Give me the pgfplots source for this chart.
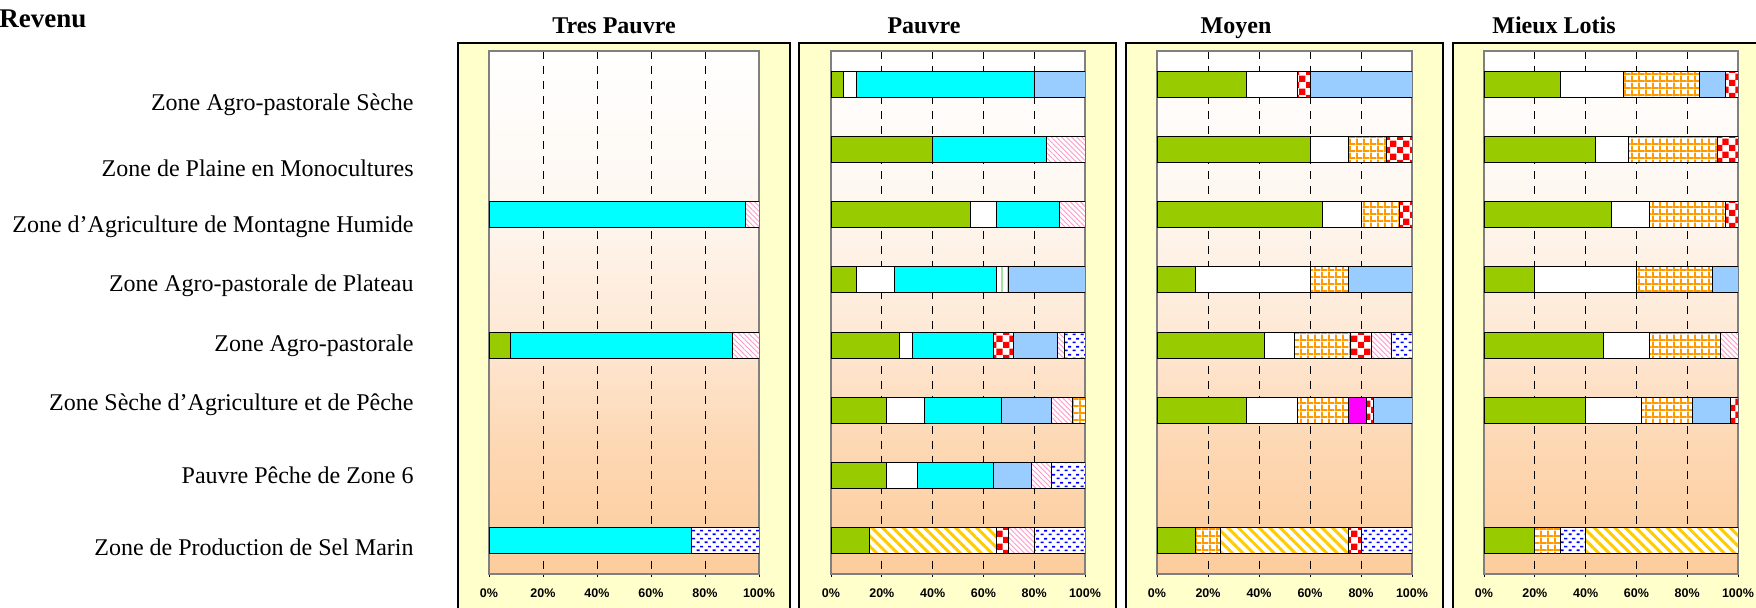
\documentclass[border=0pt]{standalone}
\usepackage{fontspec}
\setmainfont{Liberation Serif}
\newfontfamily\arialfont{Liberation Sans}
\usepackage{pgfplots}
\pgfplotsset{compat=1.18}
\usepackage{pgfplotstable}
\usetikzlibrary{patterns,patterns.meta}

\definecolor{cGreen}{RGB}{153,204,0}
\definecolor{cCyan}{RGB}{0,255,255}
\definecolor{cLBlue}{RGB}{153,204,255}
\definecolor{cMag}{RGB}{255,0,255}
\definecolor{cRed}{RGB}{255,0,0}
\definecolor{cOrange}{RGB}{255,153,0}
\definecolor{cYel}{RGB}{255,204,0}
\definecolor{cBlue}{RGB}{0,0,255}
\definecolor{cPink}{RGB}{255,153,204}
\definecolor{cLGreen}{RGB}{160,225,160}
\definecolor{cBox}{RGB}{255,255,204}
\definecolor{cAxis}{RGB}{128,128,128}
\definecolor{cP0}{RGB}{255,255,255}
\definecolor{cP1}{RGB}{254,247,240}
\definecolor{cP2}{RGB}{254,232,212}
\definecolor{cP3}{RGB}{253,216,180}
\definecolor{cP4}{RGB}{252,204,156}

\pgfdeclareverticalshading{peach}{100bp}{color(0bp)=(cP4); color(25bp)=(cP4); color(37.5bp)=(cP3); color(47.5bp)=(cP2); color(60bp)=(cP1); color(75bp)=(cP0); color(100bp)=(cP0)}

\pgfdeclarepatternformonly{checks}{\pgfpointorigin}{\pgfqpoint{6.6pt}{6.6pt}}{\pgfqpoint{6.6pt}{6.6pt}}{%
  \pgfpathrectangle{\pgfpointorigin}{\pgfqpoint{3.3pt}{3.3pt}}%
  \pgfpathrectangle{\pgfqpoint{3.3pt}{3.3pt}}{\pgfqpoint{3.3pt}{3.3pt}}%
  \pgfusepath{fill}}
\pgfdeclarepatternformonly{ogrid}{\pgfpointorigin}{\pgfqpoint{3.6pt}{3.6pt}}{\pgfqpoint{3.6pt}{3.6pt}}{%
  \pgfpathrectangle{\pgfpointorigin}{\pgfqpoint{3.6pt}{1pt}}%
  \pgfpathrectangle{\pgfpointorigin}{\pgfqpoint{1pt}{3.6pt}}%
  \pgfusepath{fill}}
\pgfdeclarepatternformonly{bdash}{\pgfpointorigin}{\pgfqpoint{4pt}{4pt}}{\pgfqpoint{4pt}{4pt}}{%
  \pgfpathrectangle{\pgfqpoint{0.3pt}{0.5pt}}{\pgfqpoint{1.7pt}{0.9pt}}%
  \pgfpathrectangle{\pgfqpoint{2.3pt}{2.5pt}}{\pgfqpoint{1.7pt}{0.9pt}}%
  \pgfusepath{fill}}

\pgfplotsset{
  sG/.style={fill=cGreen,draw=black},
  sW/.style={fill=white,draw=black},
  sC/.style={fill=cCyan,draw=black},
  sB/.style={fill=cLBlue,draw=black},
  sM/.style={fill=cMag,draw=black},
  sP/.style={draw=black,preaction={fill=white},pattern={Lines[angle=-45,distance=1.8pt,line width=0.45pt]},pattern color=cPink},
  sY/.style={draw=black,preaction={fill=white},pattern={Lines[angle=-45,distance=3.7pt,line width=1.5pt]},pattern color=cYel},
  sLG/.style={draw=black,preaction={fill=white},pattern={Lines[angle=90,distance=3pt,line width=1.2pt]},pattern color=cLGreen},
  sK/.style={draw=black,preaction={fill=white},pattern=checks,pattern color=cRed},
  sO/.style={draw=black,preaction={fill=white},pattern=ogrid,pattern color=cOrange},
  sD/.style={draw=black,preaction={fill=white},pattern=bdash,pattern color=cBlue},
  panel/.style={
    xbar stacked, scale only axis, height=261.5pt, anchor=south west,
    xmin=0, xmax=100, ymin=0.48, ymax=8.52, y dir=reverse,
    bar width=0.4,
    xtick={0,20,40,60,80,100},
    xticklabels={0\%,20\%,40\%,60\%,80\%,100\%},
    ytick=\empty,
    xmajorgrids,
    major grid style={black,line width=0.5pt,dash pattern=on 4pt off 3.5pt},
    xtick pos=bottom, xtick align=outside, major tick length=1.5pt,
    axis line style={draw=cAxis,line width=0.6pt},
    every tick/.style={black,line width=0.5pt},
    xticklabel style={font=\arialfont\bfseries\fontsize{6.25}{7}\selectfont, anchor=base, yshift=-10pt, inner sep=0pt},
    axis background/.style={shading=peach},
    every axis plot/.append style={line width=0.5pt},
  },
}

% Tres Pauvre
\pgfplotstableread{
r g c p d
3 0 95 5 0
5 8 82 10 0
8 0 75 0 25
}\tabA
% Pauvre
\pgfplotstableread{
r g w y c lg k b p o d
1 5 5 0 70 0 0 20 0 0 0
2 40 0 0 45 0 0 0 15 0 0
3 55 10 0 25 0 0 0 10 0 0
4 10 15 0 40 5 0 30 0 0 0
5 27 5 0 32 0 8 17 3 0 8
6 22 15 0 30 0 0 20 8 5 0
7 22 12 0 30 0 0 15 8 0 13
8 15 0 50 0 0 5 0 10 0 20
}\tabB
% Moyen
\pgfplotstableread{
r g w o y m k b p d
1 35 20 0 0 0 5 40 0 0
2 60 15 15 0 0 10 0 0 0
3 65 15 15 0 0 5 0 0 0
4 15 45 15 0 0 0 25 0 0
5 42 12 22 0 0 8 0 8 8
6 35 20 20 0 7 3 15 0 0
8 15 0 10 50 0 5 0 0 20
}\tabC
% Mieux Lotis
\pgfplotstableread{
r g w o d y b p k
1 30 25 30 0 0 10 0 5
2 44 13 35 0 0 0 0 8
3 50 15 30 0 0 0 0 5
4 20 40 30 0 0 10 0 0
5 47 18 28 0 0 0 7 0
6 40 22 20 0 0 15 0 3
8 20 0 10 10 60 0 0 0
}\tabD

\begin{document}
\begin{tikzpicture}
\useasboundingbox (0,0) rectangle (878pt,-304pt);
\clip (0,0) rectangle (878pt,-304pt);

\draw[fill=cBox, line width=0.7pt] (229pt,-21.5pt) rectangle (395pt,-320pt);
\draw[fill=cBox, line width=0.7pt] (399.5pt,-21.5pt) rectangle (558pt,-320pt);
\draw[fill=cBox, line width=0.7pt] (563pt,-21.5pt) rectangle (721.5pt,-320pt);
\draw[fill=cBox, line width=0.7pt] (726.5pt,-21.5pt) rectangle (890pt,-320pt);

\begin{axis}[panel, at={(244.5pt,-287pt)}, width=135pt]
\addplot[sG] table[x=g,y=r]{\tabA};
\addplot[sC] table[x=c,y=r]{\tabA};
\addplot[sP] table[x=p,y=r]{\tabA};
\addplot[sD] table[x=d,y=r]{\tabA};
\end{axis}

\begin{axis}[panel, at={(415.5pt,-287pt)}, width=127pt]
\addplot[sG] table[x=g,y=r]{\tabB};
\addplot[sW] table[x=w,y=r]{\tabB};
\addplot[sY] table[x=y,y=r]{\tabB};
\addplot[sC] table[x=c,y=r]{\tabB};
\addplot[sLG] table[x=lg,y=r]{\tabB};
\addplot[sK] table[x=k,y=r]{\tabB};
\addplot[sB] table[x=b,y=r]{\tabB};
\addplot[sP] table[x=p,y=r]{\tabB};
\addplot[sO] table[x=o,y=r]{\tabB};
\addplot[sD] table[x=d,y=r]{\tabB};
\end{axis}

\begin{axis}[panel, at={(578.5pt,-287pt)}, width=127.5pt]
\addplot[sG] table[x=g,y=r]{\tabC};
\addplot[sW] table[x=w,y=r]{\tabC};
\addplot[sO] table[x=o,y=r]{\tabC};
\addplot[sY] table[x=y,y=r]{\tabC};
\addplot[sM] table[x=m,y=r]{\tabC};
\addplot[sK] table[x=k,y=r]{\tabC};
\addplot[sB] table[x=b,y=r]{\tabC};
\addplot[sP] table[x=p,y=r]{\tabC};
\addplot[sD] table[x=d,y=r]{\tabC};
\end{axis}

\begin{axis}[panel, at={(742pt,-287pt)}, width=127pt]
\addplot[sG] table[x=g,y=r]{\tabD};
\addplot[sW] table[x=w,y=r]{\tabD};
\addplot[sO] table[x=o,y=r]{\tabD};
\addplot[sD] table[x=d,y=r]{\tabD};
\addplot[sY] table[x=y,y=r]{\tabD};
\addplot[sB] table[x=b,y=r]{\tabD};
\addplot[sP] table[x=p,y=r]{\tabD};
\addplot[sK] table[x=k,y=r]{\tabD};
\end{axis}

\node[anchor=base west, inner sep=0pt, font=\bfseries\fontsize{13.5}{16}\selectfont] at (-0.5pt,-14pt) {Revenu};
\begin{scope}[every node/.style={anchor=base, inner sep=0pt, font=\bfseries\fontsize{12}{14}\selectfont}]
\node at (307pt,-17pt) {Tres Pauvre};
\node at (462pt,-17pt) {Pauvre};
\node at (618pt,-17pt) {Moyen};
\node at (777pt,-17pt) {Mieux Lotis};
\end{scope}
\begin{scope}[every node/.style={anchor=base east, inner sep=0pt, font=\fontsize{12}{14}\selectfont}]
\node at (207pt,-55.5pt) {Zone Agro-pastorale Sèche};
\node at (207pt,-88.5pt) {Zone de Plaine en Monocultures};
\node at (207pt,-116.5pt) {Zone d’Agriculture de Montagne Humide};
\node at (207pt,-146pt) {Zone Agro-pastorale de Plateau};
\node at (207pt,-176pt) {Zone Agro-pastorale};
\node at (207pt,-205.5pt) {Zone Sèche d’Agriculture et de Pêche};
\node at (207pt,-242pt) {Pauvre Pêche de Zone 6};
\node at (207pt,-278pt) {Zone de Production de Sel Marin};
\end{scope}
\end{tikzpicture}
\end{document}
